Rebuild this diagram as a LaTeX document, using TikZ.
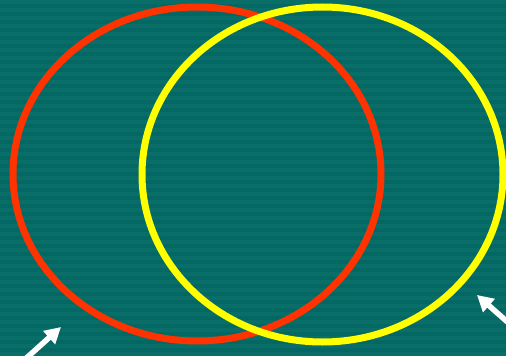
\documentclass[tikz,border=0pt]{standalone}
\usetikzlibrary{arrows.meta}
\definecolor{bgteal}{RGB}{3,103,99}
\definecolor{bgstripe}{RGB}{9,109,104}
\definecolor{ringred}{RGB}{255,51,0}
\definecolor{ringyellow}{RGB}{255,255,0}
\tikzset{
  ring/.style={line width=7pt},
  pointer/.style={draw=white, line width=5.5pt, -{Triangle[length=16pt,width=17pt]}}
}
\begin{document}
\begin{tikzpicture}[x=1pt,y=-1pt]
\fill[bgteal] (0,0) rectangle (506,355);
\foreach \k in {0,...,44} {
  \fill[bgstripe] (0,8*\k) rectangle (506,8*\k+4);
}
\useasboundingbox (0,0) rectangle (506,355);
\draw[ring, draw=ringred] (197,174) ellipse [x radius=184, y radius=167];
\draw[ring, draw=ringyellow] (322.5,174.5) ellipse [x radius=180.5, y radius=167.5];
\coordinate (la) at (22,362);
\coordinate (lt) at (61,327);
\coordinate (ra) at (512,326);
\coordinate (rt) at (477,295);
\draw[pointer] (la) -- (lt);
\draw[pointer] (ra) -- (rt);
\end{tikzpicture}
\end{document}
